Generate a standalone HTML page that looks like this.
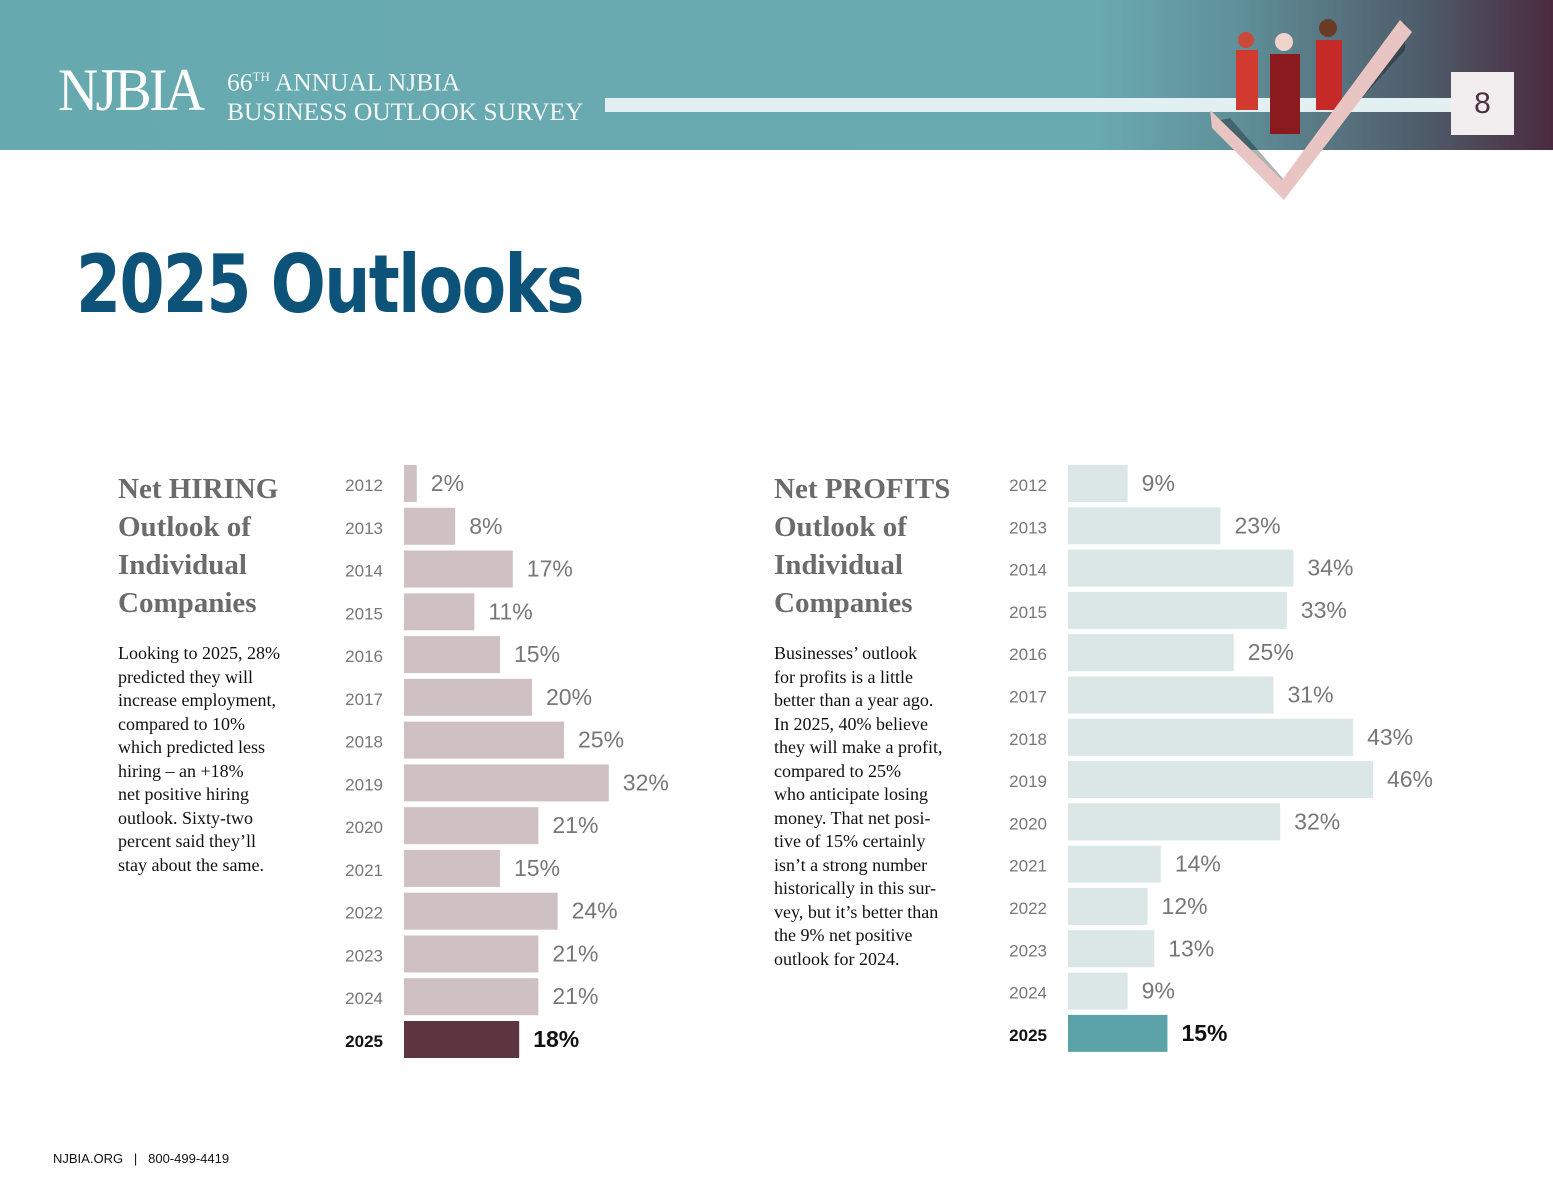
<!DOCTYPE html>
<html><head><meta charset="utf-8">
<style>
body{margin:0;width:1553px;height:1200px;position:relative;background:#fff;overflow:hidden;font-family:"Liberation Sans",sans-serif}
.hdr{position:absolute;left:0;top:0;width:1553px;height:150px;background:linear-gradient(90deg,#66a9ae 0%,#6aabb2 70%,#5f8f98 80%,#4e5a68 92%,#4b2a3e 100%)}
.serif{font-family:"Liberation Serif",serif}
.txt{position:absolute}
</style></head><body>
<div class="hdr"></div>
<div class="txt serif" style="left:58px;top:56px;font-size:60px;color:#fff;letter-spacing:-3px;transform:scaleX(0.93);transform-origin:left">NJBIA</div>
<div class="txt serif" style="left:227px;top:62px;font-size:25.5px;line-height:29px;color:#f4f8f8">66<sup style="font-size:13px">TH</sup> ANNUAL NJBIA<br>BUSINESS OUTLOOK SURVEY</div>
<div class="txt" style="left:605px;top:98px;width:860px;height:14px;background:#e3f0f1"></div>
<svg class="txt" style="left:1200px;top:10px" width="240" height="190">
<circle cx="46" cy="30" r="8" fill="#c94a3a"/><rect x="36" y="40" width="22" height="60" fill="#d23a2f"/>
<circle cx="128" cy="18" r="9" fill="#6a3a26"/><rect x="116" y="30" width="26" height="70" fill="#c52a28"/>
<circle cx="84" cy="32" r="9" fill="#f0d4cc"/><rect x="70" y="44" width="30" height="80" fill="#8a1a1e"/>
<polygon points="12,112 84,180 205,12 205,40 86,172 30,108" fill="#000" opacity="0.3"/>
<polygon points="10,100 82,170 200,10 212,22 84,190 12,118" fill="#e8c4c2"/>
</svg>
<div class="txt" style="left:1451px;top:72px;width:63px;height:63px;background:#f2eef0;color:#4b3040;font-size:30px;text-align:center;line-height:63px">8</div>
<div class="txt" style="left:76px;top:238px;font-size:80px;font-weight:bold;color:#0d5278;font-family:'DejaVu Sans',sans-serif;letter-spacing:-2px;transform:scaleX(0.81);transform-origin:left;white-space:nowrap">2025 Outlooks</div>

<div class="txt serif" style="left:118px;top:470px;font-size:29px;line-height:38px;font-weight:bold;color:#6b6b6b">Net HIRING<br>Outlook of<br>Individual<br>Companies</div>
<div class="txt serif" style="left:118px;top:642px;font-size:18px;line-height:23.5px;color:#111">Looking to 2025, 28%<br>predicted they will<br>increase employment,<br>compared to 10%<br>which predicted less<br>hiring – an +18%<br>net positive hiring<br>outlook. Sixty-two<br>percent said they’ll<br>stay about the same.</div>

<div class="txt serif" style="left:774px;top:470px;font-size:29px;line-height:38px;font-weight:bold;color:#6b6b6b">Net PROFITS<br>Outlook of<br>Individual<br>Companies</div>
<div class="txt serif" style="left:774px;top:642px;font-size:18px;line-height:23.5px;color:#111">Businesses’ outlook<br>for profits is a little<br>better than a year ago.<br>In 2025, 40% believe<br>they will make a profit,<br>compared to 25%<br>who anticipate losing<br>money. That net posi-<br>tive of 15% certainly<br>isn’t a strong number<br>historically in this sur-<br>vey, but it’s better than<br>the 9% net positive<br>outlook for 2024.</div>

<div class="txt" style="left:53px;top:1151px;font-size:13px;color:#111">NJBIA.ORG &nbsp;&nbsp;| &nbsp;&nbsp;800-499-4419</div>

<svg id="chart" class="txt" style="left:0;top:0" width="1553" height="1200"></svg>
<script>
const years = ['2012','2013','2014','2015','2016','2017','2018','2019','2020','2021','2022','2023','2024','2025'];
const hiringValues = [2,8,17,11,15,20,25,32,21,15,24,21,21,18];
const profitValues = [9,23,34,33,25,31,43,46,32,14,12,13,9,15];
const svg = document.getElementById('chart');
const NS = 'http://www.w3.org/2000/svg';
function drawChart(vals, x0, pxPer, y0, step, baseColor, lastColor, prefix){
  const xs = v => x0 + v*pxPer;
  const ys = i => y0 + i*step;
  vals.forEach((v,i)=>{
    const last = i===vals.length-1;
    const r = document.createElementNS(NS,'rect');
    r.setAttribute('x',x0); r.setAttribute('y',ys(i));
    r.setAttribute('width',xs(v)-x0); r.setAttribute('height',37);
    r.setAttribute('fill', last?lastColor:baseColor);
    
    
    svg.appendChild(r);
    const yl = document.createElementNS(NS,'text');
    yl.setAttribute('x',x0-21); yl.setAttribute('y',ys(i)+26);
    yl.setAttribute('text-anchor','end');
    yl.setAttribute('font-size','17'); yl.setAttribute('fill',last?'#111':'#777');
    if(last) yl.setAttribute('font-weight','bold');
    yl.textContent = years[i];
    
    
    svg.appendChild(yl);
    const vl = document.createElementNS(NS,'text');
    vl.setAttribute('x',xs(v)+14); vl.setAttribute('y',ys(i)+26);
    vl.setAttribute('font-size','23'); vl.setAttribute('fill',last?'#111':'#777');
    if(last) vl.setAttribute('font-weight','bold');
    vl.textContent = v+'%';
    
    
    svg.appendChild(vl);
  });
}
drawChart(hiringValues, 404, 6.4, 465, 42.77, '#cfc1c1', '#5c3540', 'hiring');
drawChart(profitValues, 1068, 6.63, 465, 42.3, '#dbe6e6', '#5ba3a9', 'profits');
</script>
</body></html>
